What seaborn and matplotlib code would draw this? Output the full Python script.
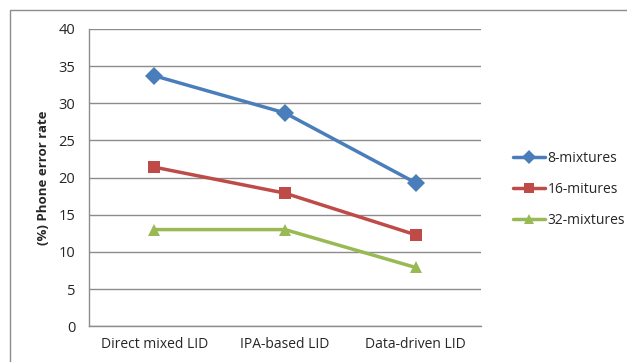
import matplotlib
matplotlib.use("Agg")
import matplotlib.pyplot as plt
import pandas as pd
import seaborn as sns
from matplotlib.patches import Rectangle

# Chart data
categories = ["Direct mixed LID", "IPA-based LID", "Data-driven LID"]
series_names = ["8-mixtures", "16-mitures", "32-mixtures"]
mix8 = [33.7, 28.7, 19.3]
mix16 = [21.4, 17.9, 12.3]
mix32 = [13.0, 13.0, 7.9]
y_ticks = [0, 5, 10, 15, 20, 25, 30, 35, 40]

df = pd.DataFrame({
    "method": categories * 3,
    "rate": mix8 + mix16 + mix32,
    "series": [s for s in series_names for _ in categories],
})

sns.set_style("white")
plt.rcParams["font.family"] = ["Open Sans", "DejaVu Sans"]

colors = {"8-mixtures": "#4A7EBB", "16-mitures": "#BE4B48", "32-mixtures": "#98B954"}
markers = {"8-mixtures": "D", "16-mitures": "s", "32-mixtures": "^"}

fig = plt.figure(figsize=(6.27, 3.62), dpi=100)
ax = fig.add_axes([0.142, 0.099, 0.625, 0.821])

# outer frame of the chart
fig.patches.append(Rectangle((10 / 627, -0.05), 1.0, 1 - 10 / 362 + 0.05,
                             transform=fig.transFigure, fill=False,
                             edgecolor="#8c8c8c", linewidth=1.0))

sns.lineplot(data=df, x="method", y="rate", hue="series", style="series",
             palette=colors, markers=markers, dashes=False, sort=False,
             linewidth=2.5, markersize=9, markeredgewidth=0, ax=ax)

ax.set_xlim(-0.5, 2.5)
ax.set_ylim(0, 40)
ax.set_yticks(y_ticks)
ax.yaxis.grid(True, color="#8c8c8c", linewidth=1.0)
ax.set_axisbelow(True)
ax.set_xticks(range(len(categories)))
ax.set_xticklabels(categories)
ax.set_xticks([-0.5, 0.5, 1.5, 2.5], minor=True)
ax.tick_params(axis="x", which="major", length=0, pad=8, labelsize=10)
ax.tick_params(axis="x", which="minor", length=5, color="#8c8c8c", direction="out")
ax.tick_params(axis="y", length=5, color="#8c8c8c", direction="out", labelsize=10.5, pad=5)
ax.set_xlabel("")
ax.set_ylabel("(%) Phone error rate", fontsize=9.5, fontweight="bold", labelpad=6)

for side in ["top", "right"]:
    ax.spines[side].set_visible(False)
for side in ["left", "bottom"]:
    ax.spines[side].set_color("#8c8c8c")
    ax.spines[side].set_linewidth(1.0)

leg = ax.legend(loc="center left", bbox_to_anchor=(1.05, 0.46), frameon=False,
                fontsize=10, handlelength=2.3, handletextpad=0.2,
                labelspacing=1.15, markerscale=0.75)

fig.savefig("out.png", dpi=100)
